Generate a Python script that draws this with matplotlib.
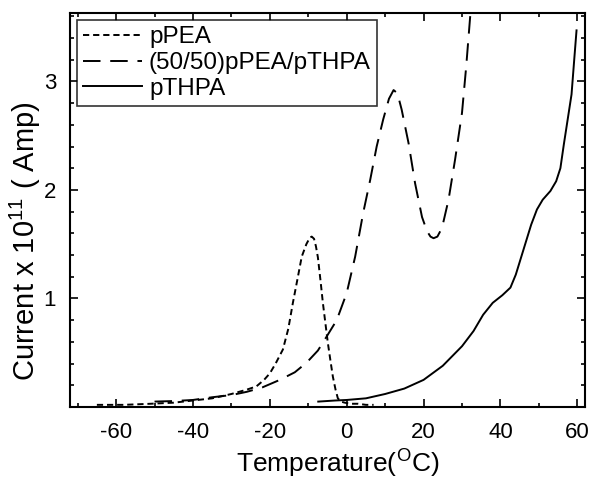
import matplotlib
matplotlib.use("Agg")
import matplotlib.pyplot as plt
from matplotlib.ticker import MultipleLocator, FixedLocator

# pPEA (short dashes)
ppea_t = [-65, -58, -51, -45, -40, -35, -30, -26, -23.5, -21.5, -20, -18.5,
          -16.6, -15.2, -14, -12.8, -11.7, -10.5, -9.6, -9.1, -8.5, -8.0, -7.5,
          -6.8, -6.2, -5.5, -4.9, -4.2, -3.6, -2.9, -2.3, -1.5, -0.5, 1, 3, 5, 7]
ppea_i = [0.02, 0.02, 0.03, 0.04, 0.06, 0.08, 0.12, 0.16, 0.19, 0.25, 0.31, 0.40,
          0.53, 0.72, 0.96, 1.18, 1.385, 1.50, 1.56, 1.57, 1.55, 1.48, 1.38,
          1.16, 0.96, 0.76, 0.59, 0.42, 0.28, 0.16, 0.08, 0.05, 0.04, 0.03, 0.03,
          0.02, 0.02]

# (50/50) blend (long dashes)
blend_t = [-50, -45, -40, -35, -30, -26, -22, -17.4, -13.5, -10.4, -7.5, -5.2,
           -2.6, 0, 2.2, 4.3, 6.1, 7.8, 9.5, 11, 12.2, 13.2, 14.3, 16.1, 17.8,
           19.6, 20.9, 21.8, 22.6, 23.6, 24.8, 26.5, 28.2, 30.0, 31.1, 32.2, 32.6]
blend_i = [0.05, 0.055, 0.065, 0.09, 0.11, 0.14, 0.18, 0.25, 0.32, 0.41, 0.52, 0.65,
           0.80, 1.05, 1.385, 1.79, 2.09, 2.40, 2.65, 2.84, 2.92, 2.89, 2.74, 2.43,
           2.06, 1.75, 1.62, 1.57, 1.555, 1.57, 1.65, 1.91, 2.28, 2.71, 3.14, 3.63, 3.9]

# pTHPA (solid)
pthpa_t = [-7.4, -3, 0, 5, 10, 15, 20, 25, 30, 33, 35.5, 38, 40.5, 42.6, 44, 46,
           48, 49.5, 51, 53, 54.5, 55.6, 56.5, 57.5, 58.5, 59.2, 59.8]
pthpa_i = [0.05, 0.06, 0.065, 0.08, 0.12, 0.17, 0.25, 0.38, 0.56, 0.70, 0.85, 0.96,
           1.03, 1.10, 1.22, 1.45, 1.68, 1.82, 1.91, 1.99, 2.08, 2.20, 2.42, 2.65,
           2.88, 3.20, 3.47]

labels = ["pPEA", "(50/50)pPEA/pTHPA", "pTHPA"]

plt.rcParams["font.family"] = ["Liberation Sans", "DejaVu Sans"]
plt.rcParams["mathtext.fontset"] = "custom"
plt.rcParams["mathtext.rm"] = "Liberation Sans"
plt.rcParams["axes.unicode_minus"] = False

fig = plt.figure(figsize=(5.9, 4.78), dpi=100)
ax = fig.add_axes([0.1186, 0.1485, 0.8729, 0.8243])

ax.plot(ppea_t, ppea_i, color="black", lw=1.4, dashes=(3.2, 2.0), label=labels[0])
ax.plot(blend_t, blend_i, color="black", lw=1.4, dashes=(9, 5), label=labels[1])
ax.plot(pthpa_t, pthpa_i, color="black", lw=1.4, label=labels[2])

ax.set_xlim(-72, 62)
ax.set_ylim(0, 3.63)
ax.xaxis.set_major_locator(MultipleLocator(20))
ax.xaxis.set_minor_locator(MultipleLocator(10))
ax.yaxis.set_major_locator(FixedLocator([1, 2, 3]))
ax.yaxis.set_minor_locator(FixedLocator([i * 0.2 for i in range(1, 19)]))
ax.tick_params(which="both", direction="in", top=True, right=True, labelsize=16,
               width=1.2)
ax.tick_params(axis="x", pad=11)
ax.tick_params(axis="y", pad=10)
ax.tick_params(which="major", length=6)
ax.tick_params(which="minor", length=3)
for s in ax.spines.values():
    s.set_linewidth(1.5)

ax.set_xlabel(r"Temperature($^{\rm O}$C)", fontsize=19)
ax.xaxis.set_label_coords(0.52, -0.10)
ax.set_ylabel(r"Current x 10$^{\rm 11}$ ( Amp)", fontsize=21)
ax.yaxis.set_label_coords(-0.052, 0.42)

leg = ax.legend(loc="upper left", bbox_to_anchor=(0.0, 1.0), borderaxespad=0.3,
                fontsize=17.5, frameon=True, fancybox=False, handlelength=2.4,
                handletextpad=0.3, labelspacing=0.15, borderpad=0.25)
leg.get_frame().set_edgecolor("black")
leg.get_frame().set_linewidth(1.2)

fig.savefig("out.png", dpi=100)
